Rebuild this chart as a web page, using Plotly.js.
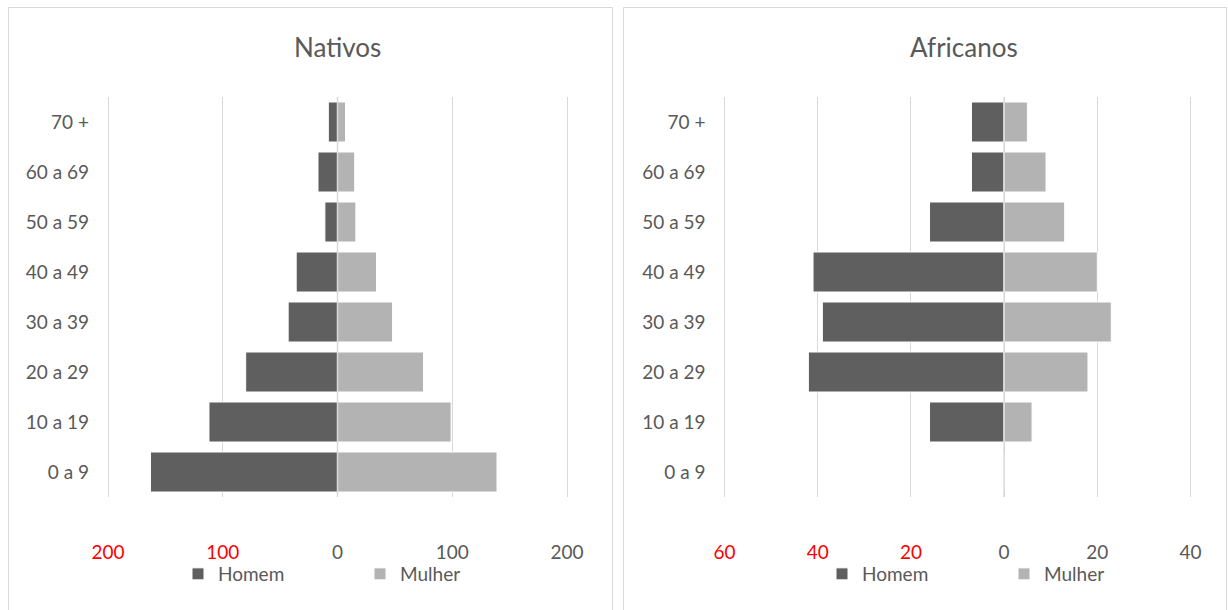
<!DOCTYPE html>
<html>
<head>
<meta charset="utf-8">
<script src="https://cdn.plot.ly/plotly-3.0.1.min.js"></script>
<style>
  html, body { margin: 0; padding: 0; background: #ffffff; }
  #chart { width: 1228px; height: 610px; }
</style>
</head>
<body>
<div id="chart"></div>
<script>
// Faixas etárias (de baixo para cima)
const faixas = ['0 a 9', '10 a 19', '20 a 29', '30 a 39', '40 a 49', '50 a 59', '60 a 69', '70 +'];

// Nativos
const nativosHomem  = [163, 112, 80, 43, 36, 11, 17, 8];
const nativosMulher = [139, 99, 75, 48, 34, 16, 15, 7];

// Africanos
const africanosHomem  = [0, 16, 42, 39, 41, 16, 7, 7];
const africanosMulher = [0, 6, 18, 23, 20, 13, 9, 5];

// Rótulos do eixo horizontal (os do lado masculino a vermelho)
const nativosTicks   = [-200, -100, 0, 100, 200];
const africanosTicks = [-60, -40, -20, 0, 20, 40];

const W = 1228, H = 610;
const px = v => v / W;          // horizontal pixel -> paper
const py = v => 1 - v / H;      // vertical pixel -> paper

const corHomem = '#5f5f5f';
const corMulher = '#b3b3b3';
const corTexto = '#595959';
const corGrelha = '#d9d9d9';
const fonte = 'Lato, "Open Sans", sans-serif';

const tickText = vals => vals.map(v =>
  v < 0 ? '<span style="color:#ff0000">' + Math.abs(v) + '</span>' : String(v));

function barras(valores, nome, cor, eixoX, eixoY, legenda, negativo) {
  return {
    type: 'bar',
    orientation: 'h',
    name: nome,
    y: faixas,
    x: valores.map(v => negativo ? -v : v),
    xaxis: eixoX,
    yaxis: eixoY,
    legend: legenda,
    marker: { color: cor, line: { color: '#ffffff', width: 1 } },
    hoverinfo: 'y+text',
    text: valores.map(String),
    textposition: 'none'
  };
}

const data = [
  barras(nativosHomem, 'Homem', corHomem, 'x', 'y', 'legend', true),
  barras(nativosMulher, 'Mulher', corMulher, 'x', 'y', 'legend', false),
  barras(africanosHomem, 'Homem', corHomem, 'x2', 'y2', 'legend2', true),
  barras(africanosMulher, 'Mulher', corMulher, 'x2', 'y2', 'legend2', false)
];

// Plotly drops gridlines lying within 1px of the axis ends, so the range is
// padded by a few pixels (and the domain by the same amount) to keep the
// outermost gridlines.
function eixoX(esq, dir, min, max, ticks, ancora) {
  const padPx = 3;
  const pad = padPx * (max - min) / (dir - esq);
  return {
    domain: [px(esq - padPx), px(dir + padPx)],
    range: [min - pad, max + pad],
    anchor: ancora,
    tickvals: ticks,
    ticktext: tickText(ticks),
    showgrid: true,
    gridcolor: corGrelha,
    gridwidth: 1,
    zeroline: false,
    showline: false,
    ticks: '',
    ticklabelstandoff: 42,
    tickfont: { family: fonte, size: 19, color: corTexto },
    fixedrange: true
  };
}

const eixoY = (dominio, ancora) => ({
  domain: dominio,
  anchor: ancora,
  type: 'category',
  categoryorder: 'array',
  categoryarray: faixas,
  showgrid: false,
  zeroline: false,
  showline: false,
  ticks: '',
  ticklabelstandoff: 15,
  tickfont: { family: fonte, size: 19, color: corTexto },
  fixedrange: true
});

const legenda = (x) => ({
  orientation: 'h',
  x: x,
  xanchor: 'left',
  y: py(574),
  yanchor: 'middle',
  font: { family: fonte, size: 19, color: corTexto },
  bgcolor: 'rgba(0,0,0,0)',
  itemclick: false,
  itemdoubleclick: false,
  entrywidth: 137,
  entrywidthmode: 'pixels'
});

const layout = {
  width: W,
  height: H,
  margin: { l: 0, r: 0, t: 0, b: 0 },
  paper_bgcolor: '#ffffff',
  plot_bgcolor: 'rgba(0,0,0,0)',
  barmode: 'overlay',
  bargap: 0.2,
  showlegend: true,
  xaxis: eixoX(108, 567, -200, 200, nativosTicks, 'y'),
  yaxis: eixoY([py(497), py(97)], 'x'),
  xaxis2: eixoX(724.5, 1190.5, -60, 40, africanosTicks, 'y2'),
  yaxis2: eixoY([py(497), py(97)], 'x2'),
  legend: legenda(px(178)),
  legend2: legenda(px(822)),
  annotations: [
    { text: 'Nativos', x: px(337), y: py(47), xref: 'paper', yref: 'paper',
      xanchor: 'center', yanchor: 'middle', showarrow: false,
      font: { family: fonte, size: 26, color: corTexto } },
    { text: 'Africanos', x: px(964), y: py(47), xref: 'paper', yref: 'paper',
      xanchor: 'center', yanchor: 'middle', showarrow: false,
      font: { family: fonte, size: 26, color: corTexto } }
  ],
  shapes: [
    // molduras dos dois gráficos
    { type: 'rect', xref: 'paper', yref: 'paper', x0: px(8.5), x1: px(612.5), y0: -0.02, y1: py(7.5),
      line: { color: corGrelha, width: 1 }, layer: 'below' },
    { type: 'rect', xref: 'paper', yref: 'paper', x0: px(623.5), x1: px(1226.5), y0: -0.02, y1: py(7.5),
      line: { color: corGrelha, width: 1 }, layer: 'below' },
    // eixo vertical no zero, por cima das barras
    { type: 'line', xref: 'x', yref: 'y domain', x0: 0, x1: 0, y0: 0, y1: 1,
      line: { color: corGrelha, width: 1.5 }, layer: 'above' },
    { type: 'line', xref: 'x2', yref: 'y2 domain', x0: 0, x1: 0, y0: 0, y1: 1,
      line: { color: corGrelha, width: 1.5 }, layer: 'above' }
  ]
};

Plotly.newPlot('chart', data, layout, { displayModeBar: false });
</script>
</body>
</html>
